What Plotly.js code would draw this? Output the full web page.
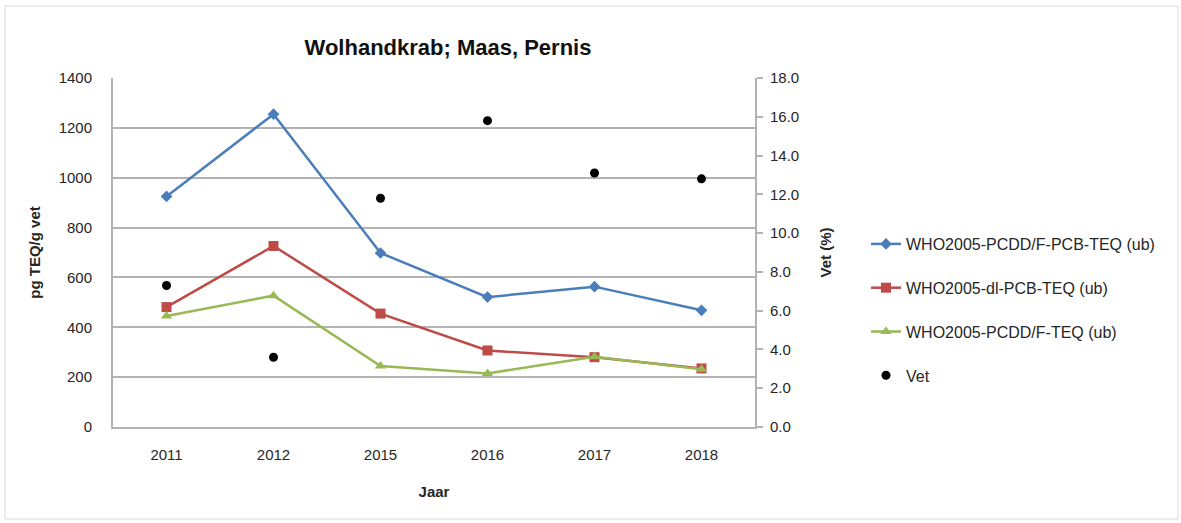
<!DOCTYPE html>
<html>
<head>
<meta charset="utf-8">
<script src="https://cdn.plot.ly/plotly-3.0.1.min.js"></script>
<style>
  body { margin: 0; background: #fff; }
  #chart { width: 1181px; height: 523px; }
</style>
</head>
<body>
<div id="chart"></div>
<script>
// data
const jaren = ["2011", "2012", "2015", "2016", "2017", "2018"];
const pcddfPcbTeq = [925, 1255, 698, 521, 563, 468];
const dlPcbTeq = [481, 726, 455, 307, 280, 235];
const pcddfTeq = [445, 527, 245, 215, 282, 232];
const vet = [7.3, 3.6, 11.8, 15.8, 13.1, 12.8];

const font = "Liberation Sans, Arial, sans-serif";

let traceBlue = {
    x: jaren, y: pcddfPcbTeq,
    name: "WHO2005-PCDD/F-PCB-TEQ (ub)",
    legendgroup: "a",
    type: "scatter", mode: "lines+markers",
    line: { color: "#4a7ebb", width: 2.5 },
    marker: { symbol: "diamond", size: 9, color: "#4a7ebb" }
};

let traceRed = {
    x: jaren, y: dlPcbTeq,
    name: "WHO2005-dl-PCB-TEQ (ub)",
    legendgroup: "b",
    type: "scatter", mode: "lines+markers",
    line: { color: "#be4b48", width: 2.5 },
    marker: { symbol: "square", size: 10, color: "#be4b48" }
};

let traceGreen = {
    x: jaren, y: pcddfTeq,
    name: "WHO2005-PCDD/F-TEQ (ub)",
    legendgroup: "c",
    type: "scatter", mode: "lines+markers",
    line: { color: "#98b954", width: 2.5 },
    marker: { symbol: "triangle-up", size: 10, color: "#98b954" }
};

let traceVet = {
    x: jaren, y: vet,
    name: "Vet",
    legendgroup: "d",
    yaxis: "y2",
    type: "scatter", mode: "markers",
    marker: { symbol: "circle", size: 9, color: "#000000" }
};

// plot area: x 113..755, y 78..427
const pw = 642, ph = 349;

let layout = {
    width: 1181, height: 523,
    margin: { l: 113, r: 426, t: 78, b: 96 },
    paper_bgcolor: "#ffffff",
    plot_bgcolor: "#ffffff",
    font: { family: font, size: 15, color: "#262626" },
    showlegend: true,
    title: {
        text: "<b>Wolhandkrab; Maas, Pernis</b>",
        font: { family: font, size: 22, color: "#111" },
        x: (448 - 113) / pw, xref: "paper", xanchor: "center",
        y: 1 - 47 / 523, yanchor: "middle"
    },
    xaxis: {
        type: "category",
        range: [-0.5, 5.5],
        showgrid: false,
        showline: true, linecolor: "#b3b3b3", linewidth: 2,
        ticks: "", ticklabelstandoff: 13,
        tickfont: { size: 15, color: "#262626" },
        title: { text: "<b>Jaar</b>", font: { size: 15, color: "#262626" }, standoff: 24 }
    },
    yaxis: {
        range: [0, 1400], dtick: 200,
        showgrid: true, gridcolor: "#b3b3b3", gridwidth: 2,
        zeroline: false,
        showline: true, linecolor: "#b3b3b3", linewidth: 2,
        ticks: "", ticklabelstandoff: 16,
        tickfont: { size: 15, color: "#262626" },
        automargin: false,
        title: { text: "<b>pg TEQ/g vet</b>", font: { size: 15, color: "#262626" }, standoff: 14 }
    },
    yaxis2: {
        overlaying: "y", side: "right",
        range: [0, 18], dtick: 2, tickformat: ".1f",
        showgrid: false, zeroline: false,
        showline: true, linecolor: "#b3b3b3", linewidth: 2,
        ticks: "outside", ticklen: 6, tickcolor: "#b3b3b3", tickwidth: 1.5,
        ticklabelstandoff: 4,
        tickfont: { size: 15, color: "#262626" },
        automargin: false,
        title: { text: "<b>Vet (%)</b>", font: { size: 15, color: "#262626" }, standoff: 22 }
    },
    legend: {
        x: (866 - 113) / pw, xanchor: "left",
        y: 1 - (227 - 78) / ph, yanchor: "top",
        traceorder: "grouped",
        tracegroupgap: 20,
        font: { family: font, size: 16, color: "#262626" },
        itemwidth: 30
    },
    shapes: [
        {
            type: "rect", xref: "paper", yref: "paper",
            x0: (5 - 113) / pw, x1: (1178 - 113) / pw,
            y0: -(519 - 427) / ph, y1: 1 + (78 - 6) / ph,
            line: { color: "#d9d9d9", width: 1 }
        }
    ]
};

Plotly.newPlot("chart", [traceBlue, traceRed, traceGreen, traceVet], layout, { displayModeBar: false });
</script>
</body>
</html>
